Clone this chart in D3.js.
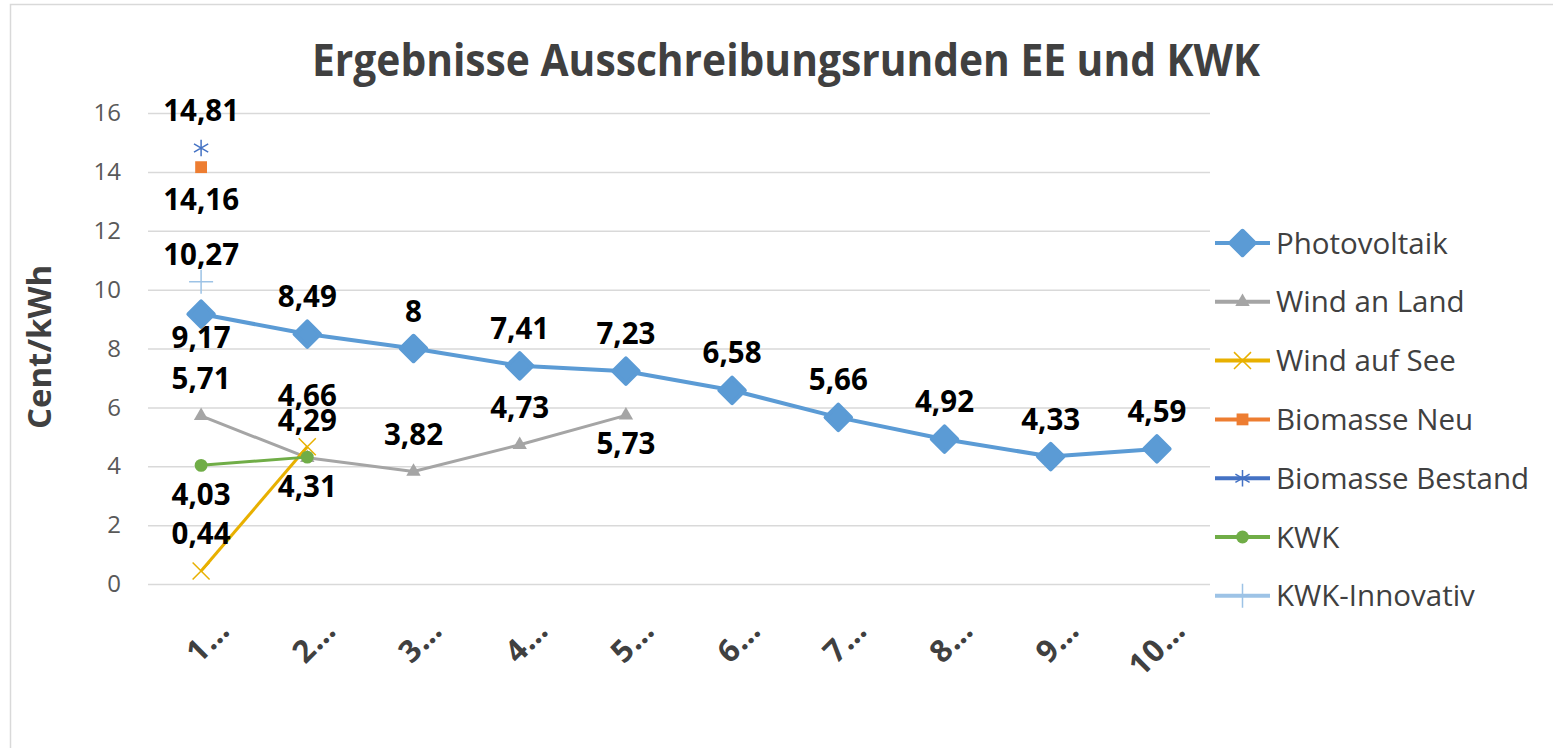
<!DOCTYPE html>
<html>
<head>
<meta charset="utf-8">
<script src="https://cdn.jsdelivr.net/npm/d3@7"></script>
<style>
  html, body { margin: 0; padding: 0; background: #fff; overflow: hidden; }
  svg { display: block; }
  svg text { font-family: "Open Sans", sans-serif; }
</style>
</head>
<body>
<div id="chart"></div>
<script>
// Data
const CATEGORIES = ["1…", "2…", "3…", "4…", "5…", "6…", "7…", "8…", "9…", "10…"];
const Y_TICKS = [0, 2, 4, 6, 8, 10, 12, 14, 16];

const PHOTOVOLTAIK     = [9.17, 8.49, 8, 7.41, 7.23, 6.58, 5.66, 4.92, 4.33, 4.59];
const WIND_AN_LAND     = [5.71, 4.29, 3.82, 4.73, 5.73, null, null, null, null, null];
const WIND_AUF_SEE     = [0.44, 4.66, null, null, null, null, null, null, null, null];
const BIOMASSE_NEU     = [14.16, null, null, null, null, null, null, null, null, null];
const BIOMASSE_BESTAND = [14.81, null, null, null, null, null, null, null, null, null];
const KWK              = [4.03, 4.31, null, null, null, null, null, null, null, null];
const KWK_INNOVATIV    = [10.27, null, null, null, null, null, null, null, null, null];

const SERIES = [
  { name: "Photovoltaik",     values: PHOTOVOLTAIK },
  { name: "Wind an Land",     values: WIND_AN_LAND },
  { name: "Wind auf See",     values: WIND_AUF_SEE },
  { name: "Biomasse Neu",     values: BIOMASSE_NEU },
  { name: "Biomasse Bestand", values: BIOMASSE_BESTAND },
  { name: "KWK",              values: KWK },
  { name: "KWK-Innovativ",    values: KWK_INNOVATIV }
];

// Styles (colour, marker, where the data label sits: t = above, b = below)
const STYLE = {
  "Photovoltaik":     { color: "#5B9BD5", lw: 4, sym: "diamond",  pos: "bttttttttt", up: -27, down: 34 },
  "Wind an Land":     { color: "#A5A5A5", lw: 3, sym: "triangle", pos: "ttttb",      up: -27, down: 39 },
  "Wind auf See":     { color: "#E8B000", lw: 3, sym: "times",    pos: "tt",         up: -27, down: 40 },
  "Biomasse Neu":     { color: "#ED7D31", lw: 4, sym: "square",   pos: "b",          up: -27, down: 43 },
  "Biomasse Bestand": { color: "#4472C4", lw: 4, sym: "asterisk", pos: "t",          up: -27, down: 40 },
  "KWK":              { color: "#70AD47", lw: 3, sym: "circle",   pos: "bb",         up: -27, down: 40 },
  "KWK-Innovativ":    { color: "#9DC3E6", lw: 4, sym: "plus",     pos: "t",          up: -17, down: 40 }
};
// extra nudges where Excel shifted overlapping labels
const NUDGE = { "Wind auf See|1": -14 };

const W = 1553, H = 748;
const PLOT = { left: 148, right: 1210, top: 113, bottom: 584 };

const svg = d3.select("#chart").append("svg")
  .attr("width", W).attr("height", H).attr("viewBox", `0 0 ${W} ${H}`);

// chart border (only top and left edges are in frame)
svg.append("path")
  .attr("d", `M10.5,${H} V4.5 H${W}`)
  .attr("fill", "none").attr("stroke", "#D9D9D9").attr("stroke-width", 1.5);

const x = d3.scalePoint().domain(CATEGORIES).range([PLOT.left, PLOT.right]).padding(0.5);
const y = d3.scaleLinear().domain([0, 16]).range([PLOT.bottom, PLOT.top]);

// Title
svg.append("text")
  .attr("x", 786).attr("y", 76).attr("text-anchor", "middle")
  .attr("font-size", 44).attr("font-weight", 700).attr("fill", "#404040")
  .attr("textLength", 948).attr("lengthAdjust", "spacingAndGlyphs")
  .text("Ergebnisse Ausschreibungsrunden EE und KWK");

// Grid
const grid = svg.append("g").attr("transform", `translate(${PLOT.left},0)`)
  .call(d3.axisLeft(y).tickValues(Y_TICKS).tickSize(-(PLOT.right - PLOT.left)).tickFormat(""));
grid.select(".domain").remove();
grid.selectAll("line").attr("stroke", "#D9D9D9").attr("stroke-width", 1.5);

// Y axis labels
const yAx = svg.append("g").attr("transform", `translate(${PLOT.left},0)`)
  .call(d3.axisLeft(y).tickValues(Y_TICKS).tickSize(0).tickPadding(27));
yAx.select(".domain").remove();
yAx.selectAll("text").attr("font-size", 24).attr("fill", "#595959")
  .attr("font-family", "Open Sans, sans-serif");

svg.append("text")
  .attr("transform", "translate(51,347) rotate(-90)")
  .attr("text-anchor", "middle").attr("font-size", 33).attr("font-weight", 700)
  .attr("fill", "#404040").text("Cent/kWh");

// X axis labels
const xAx = svg.append("g").attr("transform", `translate(0,${PLOT.bottom})`)
  .call(d3.axisBottom(x).tickSize(0));
xAx.select(".domain").remove();
xAx.selectAll("text")
  .attr("font-size", 31).attr("font-weight", 700).attr("fill", "#404040")
  .attr("font-family", "Open Sans, sans-serif")
  .attr("letter-spacing", 1)
  .attr("text-anchor", "end").attr("dy", 0)
  .attr("transform", "translate(28,46) rotate(-45)");

// Markers
function marker(sel, st, legend) {
  const s = st.sym;
  if (s === "diamond") {
    sel.append("path").attr("d", d3.symbol(d3.symbolSquare, legend ? 300 : 324)())
      .attr("transform", "rotate(45)")
      .attr("fill", st.color).attr("stroke", st.color).attr("stroke-width", 4)
      .attr("stroke-linejoin", "round");
  } else if (s === "triangle") {
    sel.append("path").attr("d", d3.symbol(d3.symbolTriangle, 90)()).attr("fill", st.color);
  } else if (s === "square") {
    sel.append("path").attr("d", d3.symbol(d3.symbolSquare, 140)()).attr("fill", st.color);
  } else if (s === "circle") {
    sel.append("path").attr("d", d3.symbol(d3.symbolCircle, 130)()).attr("fill", st.color);
  } else {
    const t = { times: d3.symbolTimes, asterisk: d3.symbolAsterisk, plus: d3.symbolPlus }[s];
    sel.append("path").attr("d", d3.symbol(t, 190)())
      .attr("fill", "none").attr("stroke", st.color).attr("stroke-width", 1.5);
  }
}

const line = d3.line()
  .defined(d => d.v != null)
  .x(d => x(d.c)).y(d => y(d.v));

const plot = svg.append("g");
SERIES.forEach(s => {
  const st = STYLE[s.name];
  const pts = s.values.map((v, i) => ({ c: CATEGORIES[i], v, i }));
  plot.append("path").datum(pts)
    .attr("d", line).attr("fill", "none")
    .attr("stroke", st.color).attr("stroke-width", st.lw)
    .attr("stroke-linejoin", "round");
  plot.selectAll(null).data(pts.filter(d => d.v != null)).join("g")
    .attr("transform", d => `translate(${x(d.c)},${y(d.v)})`)
    .each(function () { marker(d3.select(this), st, false); });
});

// Data labels
const fmt = v => String(v).replace(".", ",");
const lab = svg.append("g");
SERIES.forEach(s => {
  const st = STYLE[s.name];
  s.values.forEach((v, i) => {
    if (v == null) return;
    const dy = (st.pos[i] === "b" ? st.down : st.up) + (NUDGE[s.name + "|" + i] || 0);
    lab.append("text")
      .attr("x", x(CATEGORIES[i])).attr("y", y(v) + dy)
      .attr("text-anchor", "middle").attr("font-size", 29.5).attr("font-weight", 700)
      .attr("fill", "#000").text(fmt(v));
  });
});

// Legend
const leg = svg.append("g");
SERIES.forEach((s, i) => {
  const st = STYLE[s.name];
  const g = leg.append("g").attr("transform", `translate(1215,${243 + i * 58.8})`);
  g.append("line").attr("x1", 0).attr("x2", 55)
    .attr("stroke", st.color).attr("stroke-width", 4);
  marker(g.append("g").attr("transform", "translate(27.5,0)"), st, true);
  g.append("text").attr("x", 61).attr("dy", "0.36em")
    .attr("font-size", 29.5).attr("fill", "#404040").text(s.name);
});
</script>
</body>
</html>
